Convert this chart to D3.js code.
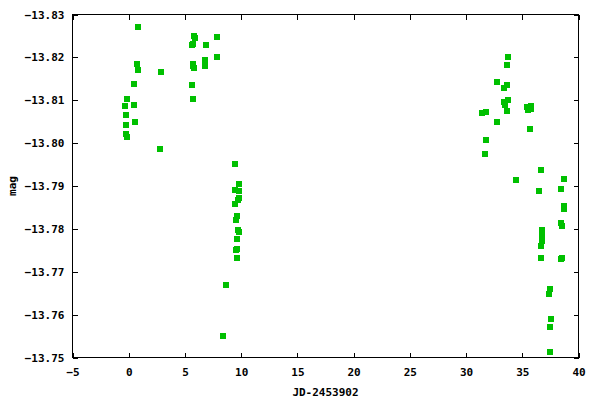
<!DOCTYPE html>
<html>
<head>
<meta charset="utf-8">
<script src="https://cdn.jsdelivr.net/npm/d3@7"></script>
<style>
  html, body { margin: 0; padding: 0; background: #fff; }
  svg { display: block; }
  text { font-family: "DejaVu Sans Mono", "Liberation Mono", monospace; font-weight: bold; font-size: 11px; fill: #000; }
</style>
</head>
<body>
<svg id="chart" width="600" height="400"></svg>
<script>
// Julian date offsets (JD-2453902)
const jd = [
  0.85, 0.76, 0.85, 2.89, 0.49, -0.13, -0.31, 0.49, -0.22, 0.58, -0.22, -0.22, -0.13, 2.80,
  5.83, 5.92, 7.87, 5.65, 5.74, 6.90, 7.87, 5.74, 5.74, 5.83, 6.81, 6.81, 5.65, 5.74,
  9.48, 9.83, 9.48, 9.83, 9.83, 9.74, 9.48, 9.65, 9.56, 9.74, 9.83, 9.65, 9.65, 9.56, 9.65, 8.67, 8.41,
  33.76, 33.67, 32.78, 33.67, 33.41, 33.41, 33.76, 33.50, 33.67, 31.45, 31.81, 35.45, 35.81, 35.81, 35.54, 32.78, 35.72, 31.81, 31.72, 34.48,
  36.70, 38.75, 36.52, 38.48, 38.75, 38.75, 38.48, 38.57, 36.79, 36.79, 36.79, 36.70, 36.70, 38.57, 38.48, 37.50, 37.41, 37.59, 37.50, 37.50
];
// magnitudes
const mag = [
  -13.8272, -13.8184, -13.8170, -13.8165, -13.8137, -13.8102, -13.8086, -13.8088, -13.8065, -13.8049, -13.8042, -13.8021, -13.8014, -13.7986,
  -13.8249, -13.8245, -13.8247, -13.8228, -13.8231, -13.8228, -13.8200, -13.8184, -13.8179, -13.8175, -13.8193, -13.8179, -13.8135, -13.8102,
  -13.7951, -13.7904, -13.7890, -13.7888, -13.7872, -13.7867, -13.7858, -13.7830, -13.7820, -13.7797, -13.7792, -13.7776, -13.7753, -13.7750, -13.7732, -13.7669, -13.7550,
  -13.8200, -13.8182, -13.8142, -13.8135, -13.8128, -13.8095, -13.8100, -13.8088, -13.8074, -13.8070, -13.8072, -13.8084, -13.8086, -13.8079, -13.8077, -13.8049, -13.8032, -13.8007, -13.7974, -13.7914,
  -13.7937, -13.7916, -13.7888, -13.7893, -13.7853, -13.7846, -13.7813, -13.7806, -13.7797, -13.7785, -13.7771, -13.7759, -13.7732, -13.7732, -13.7729, -13.7659, -13.7648, -13.7590, -13.7571, -13.7513
];
const xTicks = [-5, 0, 5, 10, 15, 20, 25, 30, 35, 40];
const yTicks = [-13.83, -13.82, -13.81, -13.80, -13.79, -13.78, -13.77, -13.76, -13.75];
const xTitle = "JD-2453902";
const yTitle = "mag";

const L = 72.5, R = 578.5, T = 14.5, B = 357.5;
const svg = d3.select("#chart");
const x = d3.scaleLinear().domain([-5, 40]).range([L, R]);
const y = d3.scaleLinear().domain([-13.83, -13.75]).range([T, B]);

function style(g) {
  g.select(".domain").remove();
  g.selectAll("line").attr("stroke", "#000").attr("shape-rendering", "crispEdges");
  g.selectAll("text").attr("font-family", null).attr("font-size", null);
}

svg.append("g").attr("transform", `translate(${L},0)`)
  .call(d3.axisLeft(y).tickValues(yTicks).tickSize(-5).tickPadding(8).tickFormat(d3.format(".2f")))
  .call(style);
svg.append("g").attr("transform", `translate(${R},0)`)
  .call(d3.axisRight(y).tickValues(yTicks).tickSize(-5).tickFormat(""))
  .call(style);
svg.append("g").attr("transform", `translate(0,${B})`)
  .call(d3.axisBottom(x).tickValues(xTicks).tickSize(-5).tickPadding(11).tickFormat(d3.format("d")))
  .call(style);
svg.append("g").attr("transform", `translate(0,${T})`)
  .call(d3.axisTop(x).tickValues(xTicks).tickSize(-5).tickFormat(""))
  .call(style);

svg.append("rect").attr("x", L).attr("y", T).attr("width", R - L).attr("height", B - T)
  .attr("fill", "none").attr("stroke", "#000").attr("shape-rendering", "crispEdges");

const pts = jd.map((d, i) => ({ x: d, y: mag[i] }));
svg.append("g").selectAll("rect").data(pts).join("rect")
  .attr("x", d => Math.round(x(d.x)) - 3)
  .attr("y", d => Math.round(y(d.y)) - 3)
  .attr("width", 6).attr("height", 6)
  .attr("fill", "#00c000").attr("shape-rendering", "crispEdges");

svg.append("text").attr("x", (L + R) / 2).attr("y", 396).attr("text-anchor", "middle").text(xTitle);
svg.append("text").attr("transform", `translate(16,${(T + B) / 2}) rotate(-90)`).attr("text-anchor", "middle").text(yTitle);
</script>
</body>
</html>
